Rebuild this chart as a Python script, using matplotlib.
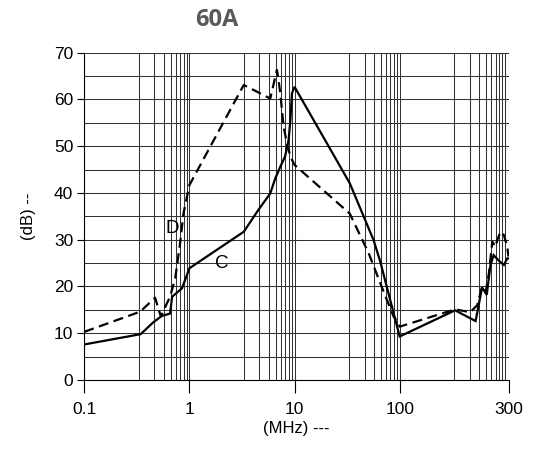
import numpy as np
import matplotlib
matplotlib.use("Agg")
import matplotlib.pyplot as plt

# curve C (solid) and D (dashed), frequency in MHz, level in dB
c_freq = [0.1, 0.21, 0.29, 0.375, 0.49, 0.526, 0.6, 0.75, 1.0, 2.0, 2.92, 4.17,
          4.91, 5.85, 6.95, 7.93, 8.49, 9.02, 10.0, 20.4, 39.4, 49.0, 100.0,
          138, 177, 194, 208, 220, 232, 253, 276, 293, 300]
c_db = [7.6, 9.8, 12.3, 13.7, 14.2, 17.8, 18.5, 19.6, 23.9, 31.7, 36.4, 39.9,
        43.1, 45.6, 47.8, 51.3, 55.6, 61.3, 62.7, 42.1, 29.9, 25.3, 9.3,
        14.9, 12.6, 19.8, 18.2, 24.5, 26.7, 25.5, 24.6, 26.0, 26.0]

d_freq = [0.1, 0.207, 0.307, 0.364, 0.49, 0.585, 0.698, 0.793, 1.0, 2.0, 4.17,
          5.2, 5.5, 5.85, 6.21, 6.58, 7.46, 8.49, 10.0, 20.4, 33.9, 49.0, 79.3,
          87.9, 100.0, 138, 165, 181, 194, 205, 215, 227, 239, 246, 260, 276,
          293, 300]
d_db = [10.3, 14.6, 17.6, 13.6, 17.8, 21.7, 29.2, 35.6, 41.7, 63.1, 60.2,
        66.3, 64.2, 61.3, 57.7, 54.2, 50.6, 47.8, 46.0, 35.6, 27.1, 20.7, 13.5,
        12.8, 11.4, 15.1, 14.5, 16.0, 20.0, 18.9, 22.8, 29.6, 28.5, 29.9, 31.7,
        31.0, 28.5, 26.4]

x_ticks = [0.1, 1, 10, 100, 300]
x_tick_labels = ["0.1", "1", "10", "100", "300"]
y_ticks = [0, 10, 20, 30, 40, 50, 60, 70]

# ------------------------------------------------------------------
# the original axis is not a plain log axis: every decade is equally wide,
# the last one (100..300) is stretched, and the minors are squeezed right
# ------------------------------------------------------------------
EXP = 0.55
S_END = 1.065


def x_to_p(x):
    x = np.maximum(np.asarray(x, dtype=float), 1e-6)
    low = np.log10(x) + 1
    high = 3 + np.log(np.maximum(x, 100) / 100) / np.log(3) * S_END
    return np.where(x <= 100, low, high)


def p_to_x(p):
    p = np.asarray(p, dtype=float)
    low = 10 ** (np.minimum(p, 3) - 1)
    high = 100 * 3 ** ((np.maximum(p, 3) - 3) / S_END)
    return np.where(p <= 3, low, high)


def forward(x):
    p = x_to_p(x)
    d = np.clip(np.floor(p), 0, 3)
    g = np.maximum(p - d, 0)
    return d + g ** EXP


def inverse(u):
    u = np.asarray(u, dtype=float)
    d = np.clip(np.floor(u), 0, 3)
    g = np.maximum(u - d, 0)
    return p_to_x(d + g ** (1 / EXP))


plt.rcParams['font.family'] = ['Liberation Sans', 'DejaVu Sans']

fig = plt.figure(figsize=(5.36, 4.5), dpi=100)
ax = fig.add_axes([0.1573, 0.1556, 0.7914, 0.7273])
ax.set_xscale('function', functions=(forward, inverse))

ax.plot(c_freq, c_db, color='black', lw=1.6, solid_joinstyle='miter')
ax.plot(d_freq, d_db, color='black', lw=1.6, dashes=(4.5, 2.5))

ax.set_xlim(0.1, 300)
ax.set_ylim(0, 70)

minor_p = [d + np.log10(k) for d in range(4) for k in range(2, 10)] + [4.0]
minor_x = p_to_x(minor_p)
ax.set_xticks(x_ticks)
ax.set_xticklabels(x_tick_labels)
ax.set_xticks(minor_x, minor=True)
ax.set_yticks(y_ticks)
ax.set_yticks(np.arange(5, 70, 10), minor=True)

ax.grid(True, which='both', color='#333333', lw=0.75)
ax.tick_params(axis='x', which='major', direction='out', length=9, width=0.8,
               pad=7, labelsize=12.5)
ax.tick_params(axis='y', which='major', direction='out', length=5, width=0.8,
               pad=3, labelsize=12.5)
ax.tick_params(which='minor', length=0)
for side in ['top', 'right']:
    ax.spines[side].set_visible(False)
for side in ['left', 'bottom']:
    ax.spines[side].set_linewidth(0.8)

ax.text(0.53, 32.5, "D", fontsize=13.5, ha='center', va='center')
ax.text(1.31, 24.9, "C", fontsize=13.5, ha='center', va='center')

ax.set_xlabel("(MHz) ---", fontsize=12, labelpad=3)
ax.set_ylabel("(dB) --", fontsize=12, labelpad=13)

fig.text(217 / 536, 1 - 20 / 450, "60A", fontsize=17, fontweight='bold',
         color='#595959', ha='center', va='center', family='Open Sans')

fig.savefig("out.png", dpi=100)
